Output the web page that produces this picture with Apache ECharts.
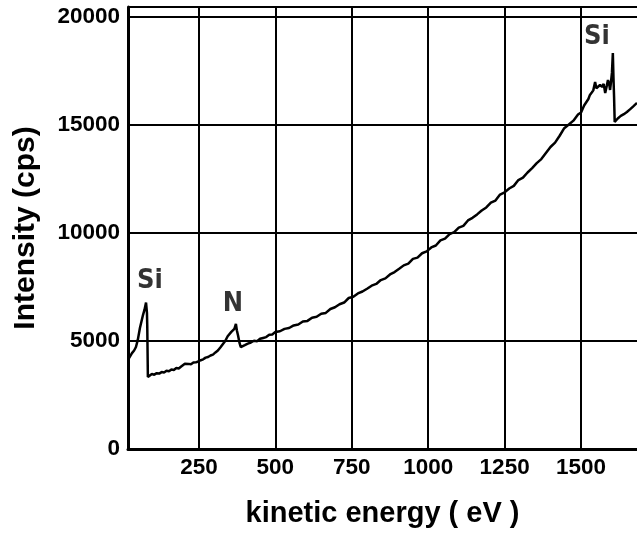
<!DOCTYPE html>
<html>
<head>
<meta charset="utf-8">
<title>AES spectrum</title>
<script src="https://cdn.jsdelivr.net/npm/echarts@6/dist/echarts.min.js"></script>
<style>
  html, body { margin: 0; padding: 0; background: #fff; }
  #chart { width: 637px; height: 535px; }
</style>
</head>
<body>
<div id="chart"></div>
<script>
// kinetic energy (eV) and intensity (cps)
var energy = [
  18, 24, 31, 38, 44, 50, 57, 62, 67, 72, 77, 80, 81, 83, 88, 96, 104, 112, 120, 128,
  136, 144, 152, 160, 168, 176, 184, 192, 198, 204, 208, 216, 224, 232, 240, 248, 256, 264, 272, 280,
  288, 296, 304, 312, 320, 328, 336, 344, 350, 356, 362, 366, 371, 374, 378, 383, 387, 393, 400, 410,
  420, 430, 440, 450, 460, 470, 480, 490, 500, 515, 530, 545, 560, 575, 590, 605, 620, 635, 650, 665,
  680, 695, 710, 725, 740, 755, 770, 785, 800, 815, 830, 845, 860, 875, 890, 905, 920, 935, 950, 965,
  980, 995, 1010, 1025, 1040, 1055, 1070, 1085, 1100, 1115, 1130, 1145, 1160, 1175, 1190, 1205, 1220, 1235, 1250, 1265,
  1280, 1295, 1310, 1325, 1340, 1355, 1370, 1385, 1400, 1415, 1430, 1445, 1460, 1475, 1490, 1500, 1510, 1517, 1524, 1529,
  1535, 1540, 1546, 1550, 1556, 1562, 1569, 1574, 1579, 1584, 1588, 1592, 1595, 1598, 1601, 1604, 1606, 1608, 1610, 1620,
  1630, 1640, 1650, 1660, 1670, 1683
];
var intensity = [
  4120, 4200, 4440, 4560, 4720, 5050, 5600, 5900, 6200, 6450, 6780, 6300, 5700, 3330, 3300, 3470, 3440, 3510, 3490, 3560,
  3540, 3620, 3600, 3680, 3660, 3750, 3730, 3820, 3800, 3950, 3880, 3940, 3920, 4000, 4010, 4050, 4110, 4150, 4230, 4260,
  4330, 4370, 4470, 4560, 4700, 4850, 5000, 5220, 5300, 5420, 5350, 5560, 5790, 5500, 5250, 4900, 4720, 4760, 4810, 4880,
  4930, 5010, 4990, 5100, 5140, 5180, 5290, 5300, 5420, 5450, 5560, 5600, 5720, 5760, 5900, 5930, 6080, 6120, 6260, 6300,
  6480, 6560, 6700, 6780, 6990, 7050, 7200, 7290, 7420, 7560, 7640, 7820, 7900, 8080, 8190, 8340, 8500, 8580, 8800, 8860,
  9060, 9150, 9330, 9420, 9660, 9740, 9950, 10040, 10250, 10330, 10580, 10700, 10860, 11040, 11180, 11400, 11500, 11780, 11880, 12060,
  12180, 12450, 12560, 12800, 13000, 13230, 13420, 13700, 13980, 14180, 14500, 14850, 15020, 15200, 15480, 15580, 15900, 16050, 16200, 16390,
  16500, 16600, 16990, 16700, 16620, 16850, 16760, 16900, 16480, 16800, 17080, 16900, 16620, 17000, 17410, 18330, 17200, 16300, 15140, 15300,
  15420, 15500, 15600, 15720, 15850, 16020
];

// peak labels
var peakNames = ['Si', 'N', 'Si'];
var peakEnergy = [90, 361, 1552];
var peakIntensity = [7780, 6710, 19070];

// axis ticks
var xTicks = [250, 500, 750, 1000, 1250, 1500];
var yTicks = [0, 5000, 10000, 15000, 20000];
var xMin = 18, xMax = 1683;
var yMin = 0, yMax = 20460;

var spectrum = energy.map(function (e, i) { return [e, intensity[i]]; });
var peaks = peakNames.map(function (n, i) { return { value: [peakEnergy[i], peakIntensity[i]], name: n }; });

var chart = echarts.init(document.getElementById('chart'));
var axisFont = { fontFamily: 'Liberation Sans, Arial, sans-serif', fontWeight: 'bold', color: '#000' };

chart.setOption({
  animation: false,
  backgroundColor: '#fff',
  grid: { left: 128, right: 0, top: 7, bottom: 86, outerBoundsMode: 'none' },
  xAxis: {
    type: 'value',
    min: xMin,
    max: xMax,
    name: 'kinetic energy ( eV )',
    nameLocation: 'middle',
    nameGap: 50,
    nameTextStyle: Object.assign({ fontSize: 29 }, axisFont),
    axisLine: { show: true, lineStyle: { color: '#000', width: 3 } },
    axisTick: { show: false },
    splitLine: { show: false },
    axisLabel: Object.assign({
      fontSize: 22.5, margin: 7, customValues: xTicks,
      formatter: function (v) { return String(v); }
    }, axisFont)
  },
  yAxis: {
    type: 'value',
    min: yMin,
    max: yMax,
    interval: 5000,
    name: 'Intensity (cps)',
    nameLocation: 'middle',
    nameRotate: 90,
    nameGap: 87,
    nameTextStyle: Object.assign({ fontSize: 30 }, axisFont),
    axisLine: { show: true, lineStyle: { color: '#000', width: 3 } },
    axisTick: { show: false },
    splitLine: { show: true, lineStyle: { color: '#000', width: 2 } },
    axisLabel: Object.assign({
      fontSize: 22.5, margin: 8,
      formatter: function (v) { return yTicks.indexOf(v) >= 0 ? String(v) : ''; }
    }, axisFont)
  },
  series: [
    {
      type: 'line',
      data: spectrum,
      showSymbol: false,
      lineStyle: { color: '#000', width: 2.5 },
      markLine: {
        silent: true,
        symbol: 'none',
        label: { show: false },
        lineStyle: { color: '#000', width: 2, type: 'solid' },
        data: xTicks.map(function (t) { return { xAxis: t }; })
      }
    },
    {
      type: 'scatter',
      data: peaks,
      symbolSize: 0,
      label: {
        show: true,
        position: 'inside',
        formatter: '{b}',
        fontFamily: 'DejaVu Sans Condensed, DejaVu Sans, sans-serif',
        fontWeight: 'bold',
        fontSize: 27,
        color: '#000'
      }
    }
  ]
});
</script>
</body>
</html>
